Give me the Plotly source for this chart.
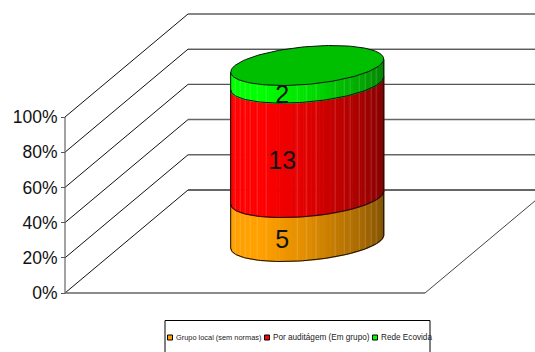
import numpy as np
import plotly.graph_objects as go

# ---- data ----
series_names = ["Grupo local (sem normas)", "Por auditágem (Em grupo)", "Rede Ecovida"]
series_values = [5, 13, 2]
series_rgb = [(255, 160, 0), (255, 0, 0), (0, 255, 0)]
cap_color = "rgb(0,190,0)"
tick_values = [0, 20, 40, 60, 80, 100]
tick_labels = ["0%", "20%", "40%", "60%", "80%", "100%"]

# ---- scene geometry ----
W, H = 535, 352
PX_PER_PCT = 1.76
Y0_PX = 293.0
FRONT_L, FRONT_R = 65.0, 425.0
DEPTH_X = 123.0
DEPTH_Y = 103.0 / PX_PER_PCT
A_W = 76.5
B_X = 25.0
D_Y = 20.0 / PX_PER_PCT
RX = np.sqrt(A_W**2 - B_X**2)
T0 = np.arctan2(B_X, RX)
CX = (FRONT_L + FRONT_R + DEPTH_X) / 2 + 0.7
CY = DEPTH_Y / 2
seam_offsets = [-72, -67, -62, -57, -50, -41, -10, -1, 9, 28, 37, 43, 52, 58, 64, 69]
shade_f = [0, 0.2, 0.5, 0.85, 1]
shade_v = [1, 1, 0.88, 0.66, 0.52]
back_line_style = {0: ("#333333", 1.6), 20: ("#666666", 1.5), 40: ("#666666", 1.5),
                   60: ("#555555", 1.4), 80: ("#111111", 1), 100: ("#111111", 1)}

def arc(t, y):
    return CX + RX * np.cos(t) + B_X * np.sin(t), CY + y + D_Y * np.sin(t)

fig = go.Figure()

def add_line(xs, ys, color, width):
    fig.add_trace(go.Scatter(x=xs, y=ys, mode="lines", line=dict(color=color, width=width),
                             hoverinfo="skip", showlegend=False))

# walls and floor
for v in tick_values:
    add_line([FRONT_L, FRONT_L + DEPTH_X], [v, v + DEPTH_Y], "#111111", 1)
    col, wid = back_line_style[v]
    add_line([FRONT_L + DEPTH_X, FRONT_R + 140], [v + DEPTH_Y, v + DEPTH_Y], col, wid)
add_line([FRONT_L, FRONT_R], [0, 0], "#666666", 1.4)
add_line([FRONT_R, FRONT_R + DEPTH_X], [0, DEPTH_Y], "#444444", 1)
add_line([FRONT_L, FRONT_L], [0, 100], "#666666", 1.2)

# cylinder bands
total = sum(series_values)
pct = np.cumsum([0] + series_values) / total * 100
ts = np.linspace(T0 + np.pi, T0 + 2 * np.pi, 61)
for i, rgb in enumerate(series_rgb):
    for j in range(len(ts) - 1):
        tt = np.linspace(ts[j], ts[j + 1], 4)
        x0, y0 = arc(tt, pct[i])
        x1, y1 = arc(tt[::-1], pct[i + 1])
        f = ((x0.mean() - CX) / A_W + 1) / 2
        b = np.interp(f, shade_f, shade_v)
        c = "rgb(%d,%d,%d)" % tuple(int(k * b) for k in rgb)
        fig.add_trace(go.Scatter(x=np.r_[x0, x1], y=np.r_[y0, y1], mode="lines", fill="toself",
                                 fillcolor=c, line=dict(color=c, width=1.2),
                                 hoverinfo="skip", showlegend=False))
    # light seams between strips
    sx, sy = [], []
    for off in seam_offsets:
        u = 2 * np.pi - np.arccos(off / A_W)
        xa, ya = arc(T0 + u, pct[i])
        xb, yb = arc(T0 + u, pct[i + 1])
        sx += [xa, xb, None]
        sy += [ya, yb, None]
    add_line(sx, sy, "rgba(255,255,255,0.18)", 1)

# outlines
ts_f = np.linspace(T0 + np.pi, T0 + 2 * np.pi, 80)
for p in pct[:-1]:
    xa, ya = arc(ts_f, p)
    add_line(xa, ya, "#111111", 1)
for t in (T0 + np.pi, T0 + 2 * np.pi):
    xa, ya = arc(t, pct[0])
    xb, yb = arc(t, pct[-1])
    add_line([xa, xb], [ya, yb], "#111111", 1)

# top cap
tc = np.linspace(0, 2 * np.pi, 160)
xc, yc = arc(tc, pct[-1])
fig.add_trace(go.Scatter(x=xc, y=yc, mode="lines", fill="toself", fillcolor=cap_color,
                         line=dict(color="#111111", width=1), hoverinfo="skip", showlegend=False))

# value labels
lx, ly = arc(-np.pi / 2, (pct[:-1] + pct[1:]) / 2 - 1.2)
fig.add_trace(go.Scatter(x=np.full(3, lx), y=ly, mode="text",
                         text=[str(v) for v in series_values],
                         textfont=dict(family="Liberation Sans", size=25, color="#111111"),
                         textposition="middle center", hoverinfo="skip", showlegend=False))

# legend
legend_box = (165, 320.5, 430, 356)
shapes = [dict(type="rect", xref="x", yref="paper",
               x0=legend_box[0], x1=legend_box[2],
               y0=1 - legend_box[3] / H, y1=1 - legend_box[1] / H,
               line=dict(color="black", width=1), fillcolor="white", layer="above")]
swatch_x = [170, 267, 375]
text_x = [175, 272, 380]
text_sizes = [7.4, 8.2, 8.2]
legend_y = 1 - 337.5 / H
annotations = []
for sx_, tx, name, rgb, size in zip(swatch_x, text_x, series_names, series_rgb, text_sizes):
    shapes.append(dict(type="rect", xref="x", yref="paper", x0=sx_ - 2.5, x1=sx_ + 2.5,
                       y0=legend_y - 2.5 / H, y1=legend_y + 2.5 / H,
                       line=dict(color="black", width=1), fillcolor="rgb(%d,%d,%d)" % rgb, layer="above"))
    annotations.append(dict(xref="x", yref="paper", x=tx, y=legend_y, text=name, showarrow=False,
                            xanchor="left", yanchor="middle", xshift=-1,
                            font=dict(family="Liberation Sans", size=size, color="#222222")))

fig.update_layout(
    width=W, height=H, margin=dict(l=0, r=0, t=0, b=0), autosize=False,
    paper_bgcolor="white", plot_bgcolor="white", showlegend=False,
    shapes=shapes, annotations=annotations,
    xaxis=dict(range=[0, W], visible=False, fixedrange=True),
    yaxis=dict(range=[(Y0_PX - H) / PX_PER_PCT, Y0_PX / PX_PER_PCT], anchor="free",
               position=FRONT_L / W, side="left", tickmode="array",
               tickvals=tick_values, ticktext=tick_labels, ticks="outside", ticklen=4,
               tickcolor="#555555", showgrid=False, zeroline=False, showline=False,
               tickfont=dict(family="Liberation Sans", size=17.5, color="#111111"),
               fixedrange=True),
)
fig.write_html("out.html", config={"displayModeBar": False},
               post_script="document.body.style.margin='0';document.body.style.overflow='hidden';")
